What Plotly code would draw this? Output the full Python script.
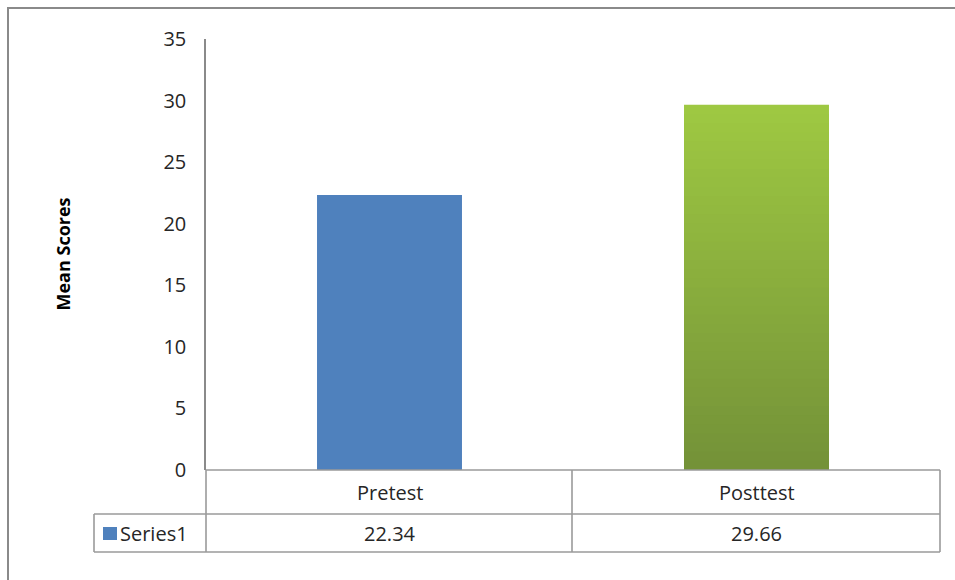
import plotly.graph_objects as go

# ---- data ----
categories = ["Pretest", "Posttest"]
values = [22.34, 29.66]
series_name = "Series1"
y_ticks = [0, 5, 10, 15, 20, 25, 30, 35]
y_title = "Mean Scores"

# ---- layout geometry (pixels) ----
W, H = 955, 580
L, R, T, B = 206, 15, 39, 110
PW, PH = W - L - R, H - T - B

def px(x):
    return (x - L) / PW

def py(y):
    return (H - B - y) / PH

FONT = "Open Sans"
TXT = "#262626"
GRID = "#9a9a9a"
blue = "#4F81BD"
green_top = (158, 200, 66)
green_bot = (116, 146, 56)
FS = 20

fig = go.Figure()

# Pretest bar (solid blue)
fig.add_trace(go.Bar(x=[categories[0]], y=[values[0]], width=0.395,
                     marker=dict(color=blue, line=dict(width=0)),
                     name=series_name, showlegend=False, hoverinfo="x+y"))

# Posttest bar with vertical gradient (light top -> dark bottom), drawn as overlaid bars
N = 40
for k in range(N):
    f = k / (N - 1)
    c = tuple(round(green_top[i] + (green_bot[i] - green_top[i]) * f) for i in range(3))
    fig.add_trace(go.Bar(x=[categories[1]], y=[values[1] * (1 - k / N)], width=0.395,
                         marker=dict(color="rgb(%d,%d,%d)" % c, line=dict(width=0)),
                         showlegend=False, hoverinfo="skip" if k else "x+y"))

shapes = []
def line(x0, y0, x1, y1, color=GRID, w=1.6):
    shapes.append(dict(type="line", xref="paper", yref="paper",
                       x0=px(x0), y0=py(y0), x1=px(x1), y1=py(y1),
                       line=dict(color=color, width=w)))

# outer chart border (top and left visible)
line(7, 8, 955, 8, "#8a8a8a", 2)
line(8, 8, 8, 580, "#8a8a8a", 2)

# data table grid
tl, tm, tr = 206, 572, 940
r0, r1, r2 = 470, 514, 552
left2 = 94
line(tl, r0, tr, r0)
line(left2, r1, tr, r1)
line(left2, r2, tr, r2)
line(left2, r1, left2, r2)
line(tl, r0, tl, r2)
line(tm, r0, tm, r2)
line(tr, r0, tr, r2)

# legend key square
shapes.append(dict(type="rect", xref="paper", yref="paper",
                   x0=px(103), x1=px(117), y0=py(540), y1=py(527),
                   fillcolor=blue, line=dict(width=0)))

annotations = []
ncat = len(categories)
for i, (c, v) in enumerate(zip(categories, values)):
    xc = (i + 0.5) / ncat
    annotations.append(dict(text=c, x=xc, y=py((r0 + r1) / 2), xref="paper", yref="paper",
                            showarrow=False, xanchor="center", yanchor="middle",
                            font=dict(family=FONT, size=FS, color=TXT)))
    annotations.append(dict(text=f"{v:.2f}", x=xc, y=py((r1 + r2) / 2), xref="paper", yref="paper",
                            showarrow=False, xanchor="center", yanchor="middle",
                            font=dict(family=FONT, size=FS, color=TXT)))
annotations.append(dict(text=series_name, x=px(118), y=py((r1 + r2) / 2), xref="paper", yref="paper",
                        showarrow=False, xanchor="left", yanchor="middle",
                        font=dict(family=FONT, size=FS, color=TXT)))
annotations.append(dict(text="<b>" + y_title + "</b>", x=px(62), y=0.5, xref="paper", yref="paper",
                        showarrow=False, textangle=-90, xanchor="center", yanchor="middle",
                        font=dict(family=FONT, size=18, color="#000000")))

fig.update_layout(
    width=W, height=H,
    margin=dict(l=L, r=R, t=T, b=B, pad=0),
    paper_bgcolor="white", plot_bgcolor="white",
    barmode="overlay", showlegend=False,
    shapes=shapes, annotations=annotations,
    xaxis=dict(type="category", categoryorder="array", categoryarray=categories,
               range=[-0.5, ncat - 0.5], showticklabels=False, showline=False,
               showgrid=False, zeroline=False, fixedrange=True),
    yaxis=dict(range=[0, 35], tickvals=y_ticks, showgrid=False, zeroline=False,
               showline=True, linecolor="#8a8a8a", linewidth=1.5,
               ticks="outside", ticklen=14, tickcolor="rgba(0,0,0,0)",
               tickfont=dict(family=FONT, size=FS, color=TXT), fixedrange=True),
)

fig.write_html("out.html")
